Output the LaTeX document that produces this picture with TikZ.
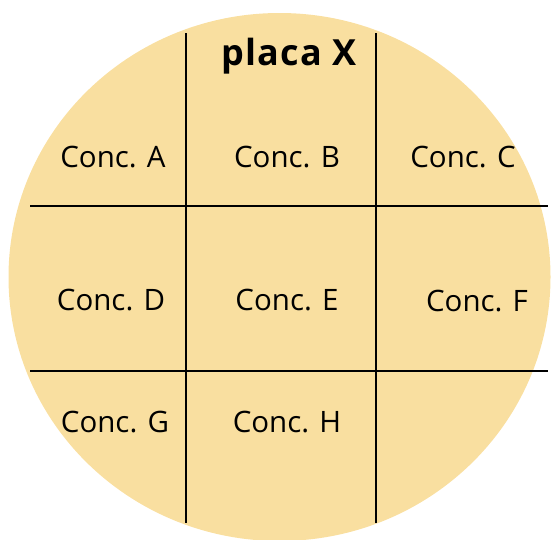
\documentclass[tikz,border=0pt]{standalone}
\usepackage{fontspec}
\setmainfont{Open Sans}

\definecolor{platefill}{HTML}{F9DFA0}

\begin{document}
\begin{tikzpicture}[x=1pt, y=-1pt, line width=1.7pt,
  conc/.style={anchor=base, font=\fontsize{29.5}{34}\selectfont},
  title/.style={anchor=base, font=\fontsize{36}{40}\selectfont\bfseries\addfontfeature{LetterSpace=3}}]

\useasboundingbox (0, 0) rectangle (551, 539);
\clip (0, 0) rectangle (551, 539);

% Plate
\fill[platefill] (279.5, 277) ellipse (271 and 264);

% Grid lines
\draw (186, 33) -- (186, 523);
\draw (376, 33) -- (376, 523);
\draw (30, 206) -- (548, 206);
\draw (30, 371) -- (548, 371);

% Title
\node[title] (placa) at (289, 65) {placa X};

% Concentrations
\node[conc] (concA) at (113, 167) {Conc. A};
\node[conc] (concB) at (287, 167) {Conc. B};
\node[conc] (concC) at (463, 167) {Conc. C};
\node[conc] (concD) at (111, 310) {Conc. D};
\node[conc] (concE) at (287, 310) {Conc. E};
\node[conc] (concF) at (477, 311) {Conc. F};
\node[conc] (concG) at (115, 432) {Conc. G};
\node[conc] (concH) at (287, 432) {Conc. H};

\end{tikzpicture}
\end{document}
